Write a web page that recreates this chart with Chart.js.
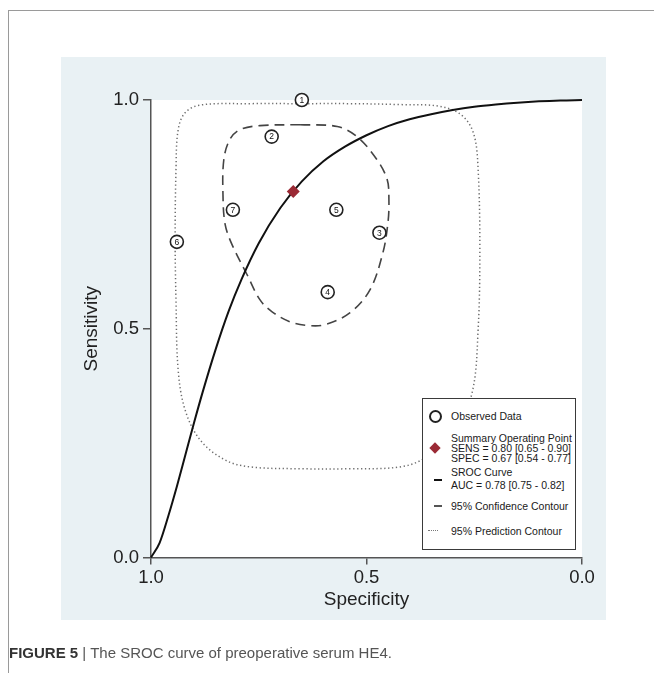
<!DOCTYPE html>
<html>
<head>
<meta charset="utf-8">
<title>SROC curve of preoperative serum HE4</title>
<script src="https://cdn.jsdelivr.net/npm/chart.js@4/dist/chart.umd.min.js"></script>
<style>
  html, body { margin: 0; padding: 0; background: #ffffff; }
  body { width: 654px; height: 685px; position: relative; overflow: hidden; font-family: "Liberation Sans", Arial, sans-serif; }
  #frame { position: absolute; left: 8px; top: 10px; width: 660px; height: 662px; border-top: 1px solid #9a9a9a; border-left: 1px solid #9a9a9a; }
  #panel { position: absolute; left: 61px; top: 57px; width: 545px; height: 563px; background: #e9f1f4; }
  #chart { position: absolute; left: 0; top: 0; }
  #legend { position: absolute; left: 422px; top: 398px; width: 152px; height: 150px; border: 1px solid #3a3a3a; background: #ffffff;
            font-family: "Liberation Sans Narrow", "Liberation Sans", Arial, sans-serif; font-size: 10.5px; color: #1a1a1a; }
  #legend .t { position: absolute; left: 28px; white-space: nowrap; line-height: 10px; }
  #legend .sym { position: absolute; }
  #caption { position: absolute; left: 9px; top: 644px; font-size: 15px; color: #555; white-space: nowrap; }
  #caption b { color: #333; }
</style>
</head>
<body>
<div id="frame"></div>
<div id="panel"></div>
<canvas id="chart" width="654" height="685"></canvas>
<div id="legend">
  <div class="sym" style="left:6px;top:11px;width:9px;height:9px;border:2px solid #222;border-radius:50%;"></div>
  <div class="t" style="top:12px;">Observed Data</div>

  <div class="sym" style="left:8px;top:45px;width:8px;height:8px;background:#9b2a35;transform:rotate(45deg);"></div>
  <div class="t" style="top:34px;">Summary Operating Point</div>
  <div class="t" style="top:44px;">SENS = 0.80 [0.65 - 0.90]</div>
  <div class="t" style="top:54px;">SPEC = 0.67 [0.54 - 0.77]</div>

  <div class="sym" style="left:11px;top:80px;width:8px;height:2px;background:#111;"></div>
  <div class="t" style="top:68px;">SROC Curve</div>
  <div class="t" style="top:81px;">AUC = 0.78 [0.75 - 0.82]</div>

  <div class="sym" style="left:11px;top:106px;width:8px;height:1.5px;background:#555;"></div>
  <div class="t" style="top:102px;">95% Confidence Contour</div>

  <div class="sym" style="left:5px;top:131px;width:10px;height:0;border-top:1.5px dotted #777;"></div>
  <div class="t" style="top:127px;">95% Prediction Contour</div>
</div>
<div id="caption"><b>FIGURE 5</b> | The SROC curve of preoperative serum HE4.</div>

<script>
// Individual studies (observed data)
const studyIds  = ['1', '2', '3', '4', '5', '6', '7'];
const studySpec = [0.65, 0.72, 0.47, 0.59, 0.57, 0.94, 0.81];
const studySens = [1.00, 0.92, 0.71, 0.58, 0.76, 0.69, 0.76];

// Summary operating point
const summarySpec = [0.67];
const summarySens = [0.80];

// SROC curve
const srocSpec = [1.00, 0.98, 0.96, 0.94, 0.92, 0.90, 0.88, 0.85, 0.82, 0.79, 0.75, 0.70, 0.65,
                  0.60, 0.55, 0.50, 0.45, 0.40, 0.35, 0.30, 0.25, 0.20, 0.15, 0.10, 0.05, 0.00];
const srocSens = [0.000, 0.032, 0.090, 0.155, 0.225, 0.295, 0.362, 0.455, 0.538, 0.608, 0.687, 0.764, 0.822,
                  0.866, 0.898, 0.923, 0.943, 0.958, 0.969, 0.978, 0.985, 0.990, 0.994, 0.997, 0.999, 1.000];

// 95% confidence contour around the summary point
const confSpec = [0.654, 0.568, 0.522, 0.476, 0.452, 0.448, 0.450, 0.462, 0.492, 0.538, 0.596, 0.636,
                  0.677, 0.719, 0.747, 0.777, 0.812, 0.828, 0.833, 0.831, 0.817, 0.794, 0.747, 0.654];
const confSens = [0.946, 0.942, 0.920, 0.870, 0.826, 0.782, 0.734, 0.666, 0.585, 0.535, 0.509, 0.507,
                  0.515, 0.537, 0.563, 0.618, 0.684, 0.728, 0.793, 0.870, 0.914, 0.935, 0.944, 0.946];

// 95% prediction contour
const predSpec = [0.654, 0.538, 0.422, 0.329, 0.278, 0.251, 0.241, 0.237, 0.241, 0.255, 0.295, 0.364, 0.422,
                  0.538, 0.654, 0.770, 0.828, 0.886, 0.921, 0.937, 0.942, 0.944, 0.942, 0.937, 0.921, 0.886, 0.770, 0.654];
const predSens = [0.992, 0.992, 0.990, 0.986, 0.966, 0.925, 0.848, 0.673, 0.498, 0.360, 0.279, 0.218, 0.198,
                  0.194, 0.194, 0.198, 0.213, 0.257, 0.323, 0.410, 0.563, 0.695, 0.848, 0.935, 0.972, 0.989, 0.992, 0.992];

// Axis ticks
const tickValues = [0, 0.5, 1];

const toXY = (xs, ys) => xs.map((x, i) => ({ x: x, y: ys[i] }));

// White plotting region inside the tinted panel
const plotBackground = {
  id: 'plotBackground',
  beforeDraw(chart) {
    const { ctx, chartArea: a } = chart;
    ctx.save();
    ctx.fillStyle = '#ffffff';
    ctx.fillRect(a.left, a.top, a.right - a.left, a.bottom - a.top);
    ctx.restore();
  }
};

// Study numbers written inside the observed-data circles
const studyNumbers = {
  id: 'studyNumbers',
  afterDatasetsDraw(chart) {
    const meta = chart.getDatasetMeta(3);
    const { ctx } = chart;
    ctx.save();
    ctx.font = '8.5px "Liberation Sans", Arial, sans-serif';
    ctx.fillStyle = '#111';
    ctx.textAlign = 'center';
    ctx.textBaseline = 'middle';
    meta.data.forEach((pt, i) => ctx.fillText(studyIds[i], pt.x, pt.y + 0.5));
    ctx.restore();
  }
};

const axisColor = '#555555';
const tickFont = { family: '"Liberation Sans", Arial, sans-serif', size: 18.5 };
const titleFont = { family: '"Liberation Sans", Arial, sans-serif', size: 19 };

new Chart(document.getElementById('chart'), {
  type: 'scatter',
  data: {
    datasets: [
      {
        label: '95% Prediction Contour',
        data: toXY(predSpec, predSens),
        showLine: true, pointRadius: 0, borderColor: '#6e6e6e', borderWidth: 1.5,
        borderDash: [1.3, 2.6], tension: 0.35, order: 4, clip: false
      },
      {
        label: '95% Confidence Contour',
        data: toXY(confSpec, confSens),
        showLine: true, pointRadius: 0, borderColor: '#444444', borderWidth: 1.6,
        borderDash: [10, 6], tension: 0.35, order: 3, clip: false
      },
      {
        label: 'SROC Curve',
        data: toXY(srocSpec, srocSens),
        showLine: true, pointRadius: 0, borderColor: '#111111', borderWidth: 2,
        cubicInterpolationMode: 'monotone', order: 2, clip: false
      },
      {
        label: 'Observed Data',
        data: toXY(studySpec, studySens),
        pointRadius: 6.5, pointBorderWidth: 1.6, pointBorderColor: '#222222',
        pointBackgroundColor: '#ffffff', order: 1, clip: false
      },
      {
        label: 'Summary Operating Point',
        data: toXY(summarySpec, summarySens),
        pointStyle: 'rectRot', pointRadius: 6.5, pointBorderWidth: 0,
        pointBackgroundColor: '#9b2a35', order: 0, clip: false
      }
    ]
  },
  options: {
    responsive: false,
    animation: false,
    devicePixelRatio: 1,
    layout: { padding: { left: 61, right: 72, top: 100, bottom: 64.5 } },
    plugins: { legend: { display: false }, tooltip: { enabled: false } },
    scales: {
      x: {
        type: 'linear', min: 0, max: 1, reverse: true,
        afterBuildTicks: (s) => { s.ticks = tickValues.map(v => ({ value: v })); },
        afterFit: (s) => { s.height = 63; },
        border: { color: axisColor, width: 1.5 },
        grid: { drawOnChartArea: false, drawTicks: true, tickLength: 7, color: axisColor, lineWidth: 1.5 },
        ticks: { color: '#222', font: tickFont, padding: 2, maxRotation: 0, callback: (v) => Number(v).toFixed(1) },
        title: { display: true, text: 'Specificity', color: '#222', font: titleFont, padding: { top: 0, bottom: 9 } }
      },
      y: {
        type: 'linear', min: 0, max: 1,
        afterBuildTicks: (s) => { s.ticks = tickValues.map(v => ({ value: v })); },
        afterFit: (s) => { s.width = 90; },
        border: { color: axisColor, width: 1.5 },
        grid: { drawOnChartArea: false, drawTicks: true, tickLength: 8, color: axisColor, lineWidth: 1.5 },
        ticks: { color: '#222', font: tickFont, padding: 4, callback: (v) => Number(v).toFixed(1) },
        title: { display: true, text: 'Sensitivity', color: '#222', font: titleFont, padding: { top: 19.6, bottom: 0 } }
      }
    }
  },
  plugins: [plotBackground, studyNumbers]
});
</script>
</body>
</html>
